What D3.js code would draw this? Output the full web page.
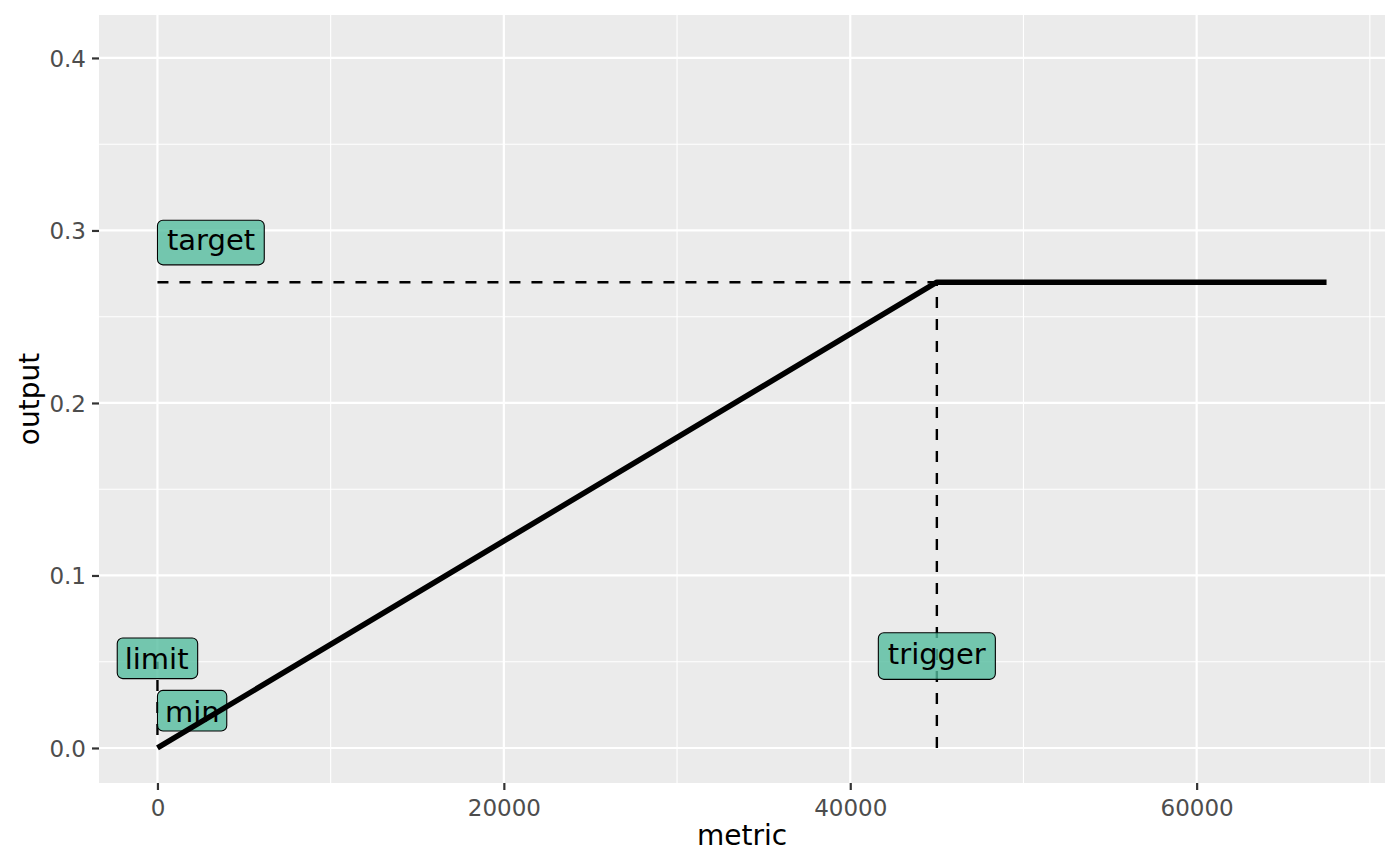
<!DOCTYPE html>
<html>
<head>
<meta charset="utf-8">
<script src="https://cdn.jsdelivr.net/npm/d3@7"></script>
<style>
  html, body { margin: 0; padding: 0; background: #ffffff; }
  svg { display: block; }
</style>
</head>
<body>
<svg id="chart" width="1400" height="866"></svg>
<script>
// ---- data ----
const curveX = [0, 45000, 67500];
const curveY = [0, 0.27, 0.27];

const dashedSegments = [
  { x1: 0, y1: 0.27, x2: 45000, y2: 0.27 },      // target level
  { x1: 45000, y1: 0, x2: 45000, y2: 0.27 },     // trigger
  { x1: 0, y1: 0.0075, x2: 0, y2: 0.05 }         // limit / min
];

const labelTexts = ["target", "limit", "min", "trigger"];
const labelX = [0, 0, 0, 45000];
const labelY = [0.293, 0.052, 0.0216, 0.0533];
const labelHjust = [0, 0.5, 0, 0.5];

const xTicks = [0, 20000, 40000, 60000];
const xMinor = [10000, 30000, 50000, 70000];
const yTicks = [0, 0.1, 0.2, 0.3, 0.4];
const yMinor = [0.05, 0.15, 0.25, 0.35];

const xTitle = "metric";
const yTitle = "output";

// ---- layout ----
const W = 1400, H = 866;
const panel = { left: 99, right: 1385, top: 15, bottom: 783 };

const svg = d3.select("#chart");
const x = d3.scaleLinear().domain([-3375, 70875]).range([panel.left, panel.right]);
const y = d3.scaleLinear().domain([-0.0203, 0.4249]).range([panel.bottom, panel.top]);

const FONT = "DejaVu Sans, Verdana, sans-serif";

svg.append("rect").attr("width", W).attr("height", H).attr("fill", "#ffffff");
svg.append("rect")
  .attr("x", panel.left).attr("y", panel.top)
  .attr("width", panel.right - panel.left).attr("height", panel.bottom - panel.top)
  .attr("fill", "#EBEBEB");

const grid = svg.append("g");
grid.selectAll(".xminor").data(xMinor).join("line")
  .attr("x1", d => x(d)).attr("x2", d => x(d))
  .attr("y1", panel.top).attr("y2", panel.bottom)
  .attr("stroke", "#ffffff").attr("stroke-width", 1.1);
grid.selectAll(".yminor").data(yMinor).join("line")
  .attr("y1", d => y(d)).attr("y2", d => y(d))
  .attr("x1", panel.left).attr("x2", panel.right)
  .attr("stroke", "#ffffff").attr("stroke-width", 1.1);
grid.selectAll(".xmajor").data(xTicks).join("line")
  .attr("x1", d => x(d)).attr("x2", d => x(d))
  .attr("y1", panel.top).attr("y2", panel.bottom)
  .attr("stroke", "#ffffff").attr("stroke-width", 2.2);
grid.selectAll(".ymajor").data(yTicks).join("line")
  .attr("y1", d => y(d)).attr("y2", d => y(d))
  .attr("x1", panel.left).attr("x2", panel.right)
  .attr("stroke", "#ffffff").attr("stroke-width", 2.2);

// axes
const xAxis = d3.axisBottom(x).tickValues(xTicks).tickFormat(d3.format("d"))
  .tickSize(7).tickPadding(5);
const gx = svg.append("g").attr("transform", `translate(0,${panel.bottom})`).call(xAxis);
gx.select(".domain").remove();
gx.selectAll(".tick line").attr("stroke", "#333333").attr("stroke-width", 2.2);
gx.selectAll(".tick text").attr("fill", "#4D4D4D").attr("font-size", 23)
  .attr("font-family", FONT).attr("dy", "0.92em");

const yAxis = d3.axisLeft(y).tickValues(yTicks).tickFormat(d3.format(".1f"))
  .tickSize(7).tickPadding(6);
const gy = svg.append("g").attr("transform", `translate(${panel.left},0)`).call(yAxis);
gy.select(".domain").remove();
gy.selectAll(".tick line").attr("stroke", "#333333").attr("stroke-width", 2.2);
gy.selectAll(".tick text").attr("fill", "#4D4D4D").attr("font-size", 23)
  .attr("font-family", FONT).attr("dy", "0.36em");

// titles
svg.append("text").attr("x", (panel.left + panel.right) / 2).attr("y", 845)
  .attr("text-anchor", "middle").attr("font-family", FONT).attr("font-size", 28)
  .attr("fill", "#000000").text(xTitle);
svg.append("text")
  .attr("transform", `translate(39,${(panel.top + panel.bottom) / 2}) rotate(-90)`)
  .attr("text-anchor", "middle").attr("font-family", FONT).attr("font-size", 28)
  .attr("fill", "#000000").text(yTitle);

// dashed lines
svg.append("g").selectAll("line").data(dashedSegments).join("line")
  .attr("x1", d => x(d.x1)).attr("y1", d => y(d.y1))
  .attr("x2", d => x(d.x2)).attr("y2", d => y(d.y2))
  .attr("stroke", "#000000").attr("stroke-width", 2.4)
  .attr("stroke-dasharray", "11,11");

// labels
const canvas = document.createElement("canvas");
const ctx = canvas.getContext("2d");
const LFS = 29;
ctx.font = `${LFS}px DejaVu Sans`;
const padX = 9.5, padY = 9.3;
const lg = svg.append("g");
labelTexts.forEach((t, i) => {
  const m = ctx.measureText(t);
  const inkW = m.actualBoundingBoxRight + m.actualBoundingBoxLeft;
  const asc = m.actualBoundingBoxAscent, desc = m.actualBoundingBoxDescent;
  const bw = inkW + 2 * padX;
  const bh = asc + desc + 2 * padY;
  const cx = x(labelX[i]), cy = y(labelY[i]);
  const left = cx - labelHjust[i] * bw;
  const top = cy - bh / 2;
  lg.append("rect")
    .attr("x", left).attr("y", top).attr("width", bw).attr("height", bh)
    .attr("rx", 5.5).attr("ry", 5.5)
    .attr("fill", "#55BD9F").attr("fill-opacity", 0.8)
    .attr("stroke", "#000000").attr("stroke-width", 1.1);
  lg.append("text")
    .attr("x", left + padX + m.actualBoundingBoxLeft)
    .attr("y", top + padY + asc)
    .attr("font-family", FONT).attr("font-size", LFS).attr("fill", "#000000")
    .text(t);
});

// main curve
const pts = curveX.map((d, i) => [d, curveY[i]]);
svg.append("path").datum(pts)
  .attr("d", d3.line().x(d => x(d[0])).y(d => y(d[1])))
  .attr("fill", "none").attr("stroke", "#000000").attr("stroke-width", 5.5)
  .attr("stroke-linejoin", "round").attr("stroke-linecap", "butt");
</script>
</body>
</html>
